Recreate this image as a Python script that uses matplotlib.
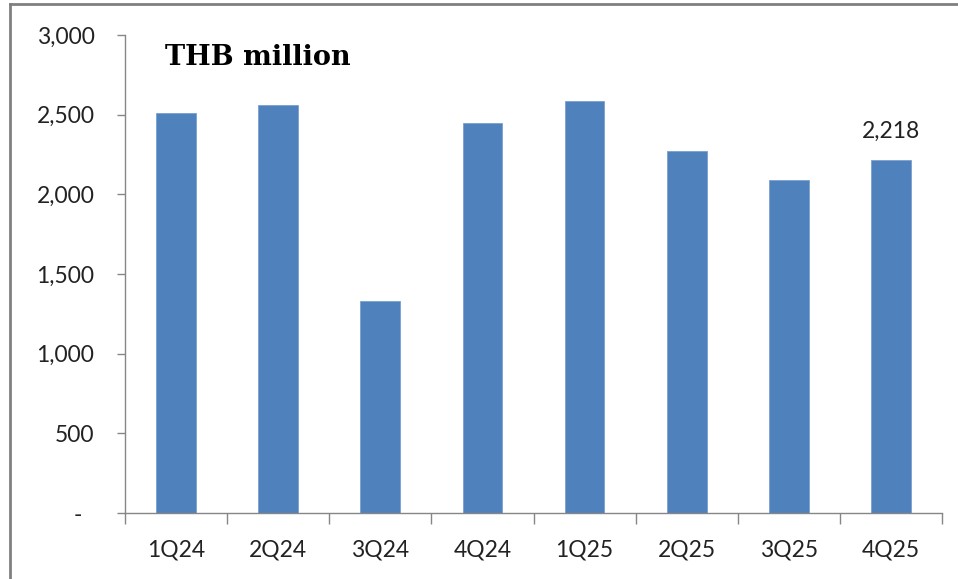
import matplotlib.pyplot as plt
from matplotlib.lines import Line2D
from matplotlib.ticker import FuncFormatter
import numpy as np

quarters = ['1Q24', '2Q24', '3Q24', '4Q24', '1Q25', '2Q25', '3Q25', '4Q25']
values = [2510, 2560, 1330, 2448, 2585, 2272, 2092, 2218]
y_ticks = [0, 500, 1000, 1500, 2000, 2500, 3000]

plt.rcParams['font.family'] = ['Lato', 'DejaVu Sans']

fig = plt.figure(figsize=(9.58, 5.79), dpi=100)
ax = fig.add_axes([125 / 958, 1 - 513 / 579, 817 / 958, 478 / 579])

x = np.arange(len(quarters))
ax.bar(x, values, width=0.39, color='#4F81BD', edgecolor='#7C9FCE', linewidth=0.6, zorder=2)

# only the last quarter gets a data label
ax.text(x[-1], values[-1] + 110, f'{values[-1]:,}', ha='center', va='bottom',
        fontsize=16.5, color='#222222')

ax.set_xlim(-0.5, len(quarters) - 0.5)
ax.set_ylim(0, 3000)

# category labels centred, tick marks on category boundaries
ax.set_xticks(x)
ax.set_xticklabels(quarters)
ax.set_xticks(np.arange(-0.5, len(quarters), 1), minor=True)
ax.tick_params(axis='x', which='major', length=0, pad=19, labelsize=16.5, labelcolor='#222222')
ax.tick_params(axis='x', which='minor', length=8, width=1, color='#868686', direction='out')

ax.set_yticks(y_ticks)
ax.yaxis.set_major_formatter(FuncFormatter(lambda v, p: '-  ' if v == 0 else f'{int(v):,}'))
ax.tick_params(axis='y', length=6, width=1, color='#868686', pad=16, labelsize=16.5, labelcolor='#222222')

for side in ['top', 'right']:
    ax.spines[side].set_visible(False)
for side in ['left', 'bottom']:
    ax.spines[side].set_color('#868686')
    ax.spines[side].set_linewidth(1)

ax.text(0.049, 0.937, 'THB million', transform=ax.transAxes, ha='left', va='baseline',
        fontsize=19.5, fontweight='bold', family=['DejaVu Serif'], color='black')

# grey frame at the top and left of the picture
fig.add_artist(Line2D([10 / 958, 1], [1 - 4 / 579, 1 - 4 / 579], color='#808080', linewidth=2))
fig.add_artist(Line2D([10 / 958, 10 / 958], [0, 1 - 4 / 579], color='#808080', linewidth=2))

fig.savefig('out.png', dpi=100)
